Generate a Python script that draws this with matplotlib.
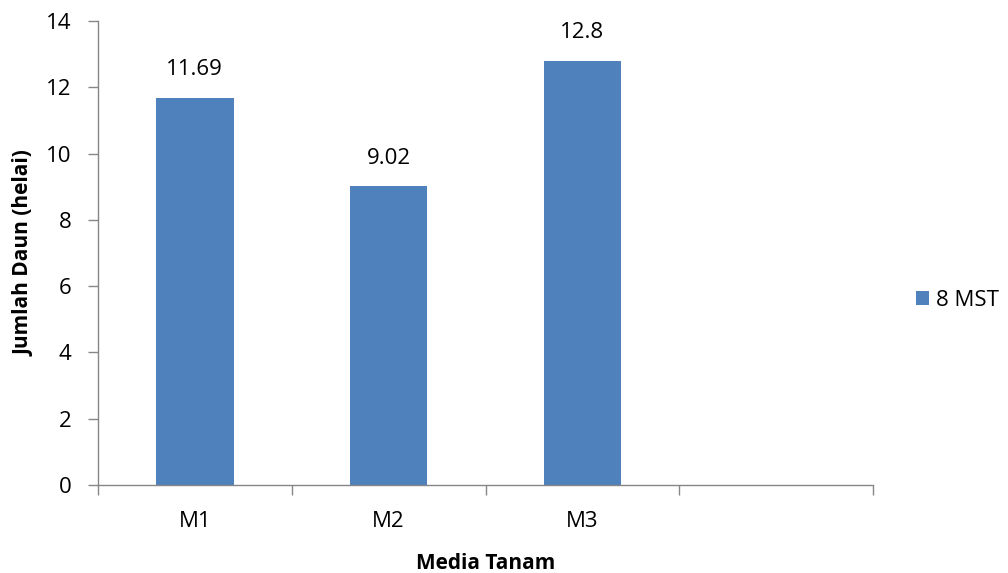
import matplotlib
matplotlib.use("Agg")
import matplotlib.pyplot as plt
import numpy as np

plt.rcParams['font.family'] = ['Open Sans', 'DejaVu Sans']

categories = ["M1", "M2", "M3", ""]
values_8mst = [11.69, 9.02, 12.8]
value_labels = ["11.69", "9.02", "12.8"]
series_name = "8 MST"
y_ticks = [0, 2, 4, 6, 8, 10, 12, 14]

bar_color = "#4F81BD"
axis_color = "#868686"

fig = plt.figure(figsize=(10.08, 5.73), dpi=100)
ax = fig.add_axes([98 / 1008, 1 - 485 / 573, (873 - 98) / 1008, (485 - 21) / 573])

x = np.arange(len(values_8mst))
bars = ax.bar(x, values_8mst, width=0.4, color=bar_color, label=series_name, zorder=2)

for xi, v, lab in zip(x, values_8mst, value_labels):
    ax.annotate(lab, (xi, v), xytext=(0, 20), textcoords="offset points",
                ha="center", va="center", fontsize=16, color="black")

ax.set_xlim(-0.5, len(categories) - 0.5)
ax.set_ylim(0, 14)
ax.set_yticks(y_ticks)
ax.set_yticklabels([str(t) for t in y_ticks], fontsize=16)

# category labels centred in their slots, tick marks on slot boundaries
ax.set_xticks(np.arange(len(categories)))
ax.set_xticklabels(categories, fontsize=16)
ax.tick_params(axis="x", which="major", length=0, pad=19)
ax.set_xticks(np.arange(len(categories) + 1) - 0.5, minor=True)
ax.tick_params(axis="x", which="minor", length=7, width=1, color=axis_color, direction="out")
ax.tick_params(axis="y", length=7, width=1, color=axis_color, direction="out", pad=12)

for side in ("top", "right"):
    ax.spines[side].set_visible(False)
for side in ("left", "bottom"):
    ax.spines[side].set_color(axis_color)
    ax.spines[side].set_linewidth(1)

ax.set_xlabel("Media Tanam", fontsize=15, fontweight="bold", labelpad=15)
ax.set_ylabel("Jumlah Daun (helai)", fontsize=15, fontweight="bold", labelpad=8)

fig.legend(handles=[bars], labels=[series_name], loc="center left",
           bbox_to_anchor=(896 / 1008, 1 - 300 / 573), frameon=False,
           fontsize=16, handlelength=0.6, handleheight=0.6, handletextpad=0.3)

fig.savefig("out.png", dpi=100, facecolor="white")
